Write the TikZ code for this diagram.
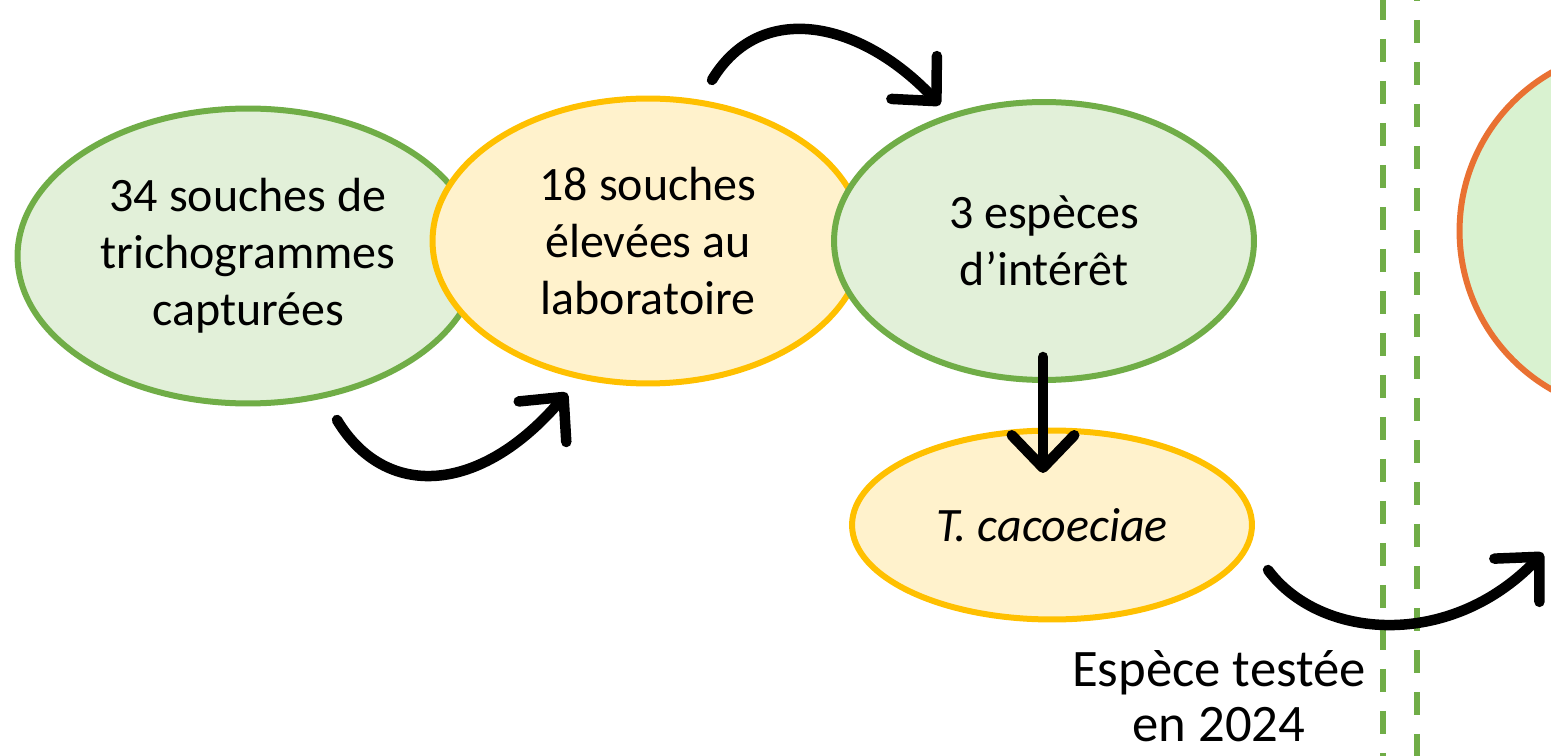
\documentclass[tikz,border=0pt]{standalone}
\usepackage{fontspec}
\setmainfont{Carlito}
\usetikzlibrary{arrows.meta,shapes.geometric}
\definecolor{vertbord}{HTML}{70AD47}
\definecolor{vertfond}{HTML}{E2F0D9}
\definecolor{jaunebord}{HTML}{FFC000}
\definecolor{jaunefond}{HTML}{FFF2CC}
\definecolor{orangebord}{HTML}{E97132}
\definecolor{vertclair}{HTML}{D9F2D0}
\tikzset{
  bulle/.style={ellipse, line width=0.12cm, align=center, inner sep=0pt,
    font=\fontsize{27.3}{32.4}\selectfont},
  vert/.style={bulle, draw=vertbord, fill=vertfond},
  jaune/.style={bulle, draw=jaunebord, fill=jaunefond},
  fleche/.style={line width=0.21cm, line cap=round,
    -{Straight Barb[round, length=0.65cm, width=1.25cm]}},
  pointille/.style={draw=vertbord, line width=0.12cm,
    dash pattern=on 0.46cm off 0.38cm}
}

\begin{document}
\begin{tikzpicture}[x=0.02cm, y=-0.02cm]
      \useasboundingbox (0, 0) rectangle (1551, 756);
      \clip (0, 0) rectangle (1551, 756);

      \draw [pointille, dash phase=0.06cm] (1383, 0) -- (1383, 756);
      \draw [pointille, dash phase=0.44cm] (1417, 0) -- (1417, 756);

      \node [vert, minimum width=9.22cm, minimum height=5.9cm] (capt) at (248, 256)
        {34 souches de\\trichogrammes\\capturées};
      \node [jaune, minimum width=8.62cm, minimum height=5.7cm] (labo) at (648, 241)
        {18 souches\\élevées au\\laboratoire};
      \node [vert, minimum width=8.4cm, minimum height=5.56cm] (esp) at (1044, 241)
        {3 espèces\\d’intérêt};
      \node [jaune, minimum width=8cm, minimum height=3.78cm] (caco) at (1052, 525)
        {\itshape T. cacoeciae};
      \node [circle, draw=orangebord, fill=vertclair, line width=0.12cm,
        minimum size=7.3cm] (suite) at (1642, 231) {};

      \node [align=center, inner sep=0pt, font=\fontsize{30}{31.5}\selectfont]
        (annee) at (1219, 696) {Espèce testée\\en 2024};

      \coordinate (a1) at (337, 420);
      \coordinate (b1) at (567, 393);
      \coordinate (a2) at (712, 80);
      \coordinate (b2) at (940, 105);
      \coordinate (a3) at (1043, 357);
      \coordinate (b3) at (1043, 473);
      \coordinate (a4) at (1268, 570);
      \coordinate (b4) at (1543, 553);

      \draw [fleche] (a1) .. controls (385, 500) and (480, 495) .. (b1);
      \draw [fleche] (a2) .. controls (760, 0) and (860, 20) .. (b2);
      \draw [fleche] (a3) -- (b3);
      \draw [fleche] (a4) .. controls (1320, 640) and (1450, 650) .. (b4);
    \end{tikzpicture}
\end{document}
